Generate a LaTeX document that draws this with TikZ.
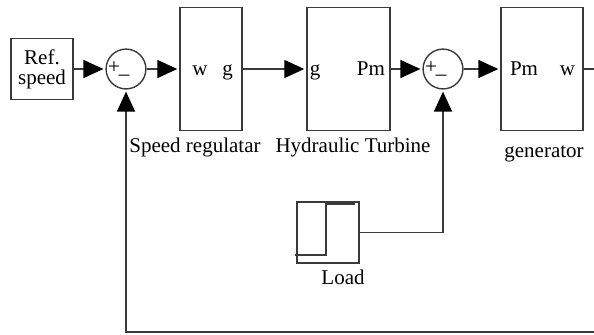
\documentclass[tikz,border=0pt]{standalone}
\usepackage{fontspec}
\setmainfont{Liberation Serif}
\usepackage{tikz}
\usetikzlibrary{arrows.meta,positioning,calc}
\definecolor{linedark}{HTML}{3A3A3A}
\tikzset{
  blockbox/.style={draw=linedark, line width=0.7pt, inner sep=0pt, minimum width=10.9mm, minimum height=21.6mm},
  srcbox/.style={draw=linedark, line width=0.7pt, inner sep=0pt, align=center, minimum width=10.9mm, minimum height=10.7mm},
  sumnode/.style={draw=linedark, circle, line width=0.7pt, inner sep=0pt, minimum size=7mm},
  port/.style={inner sep=0pt, anchor=base},
  signal/.style={-{Triangle[length=10pt, width=9pt, color=black]}, line width=0.7pt, draw=linedark, shorten >=1pt},
  plainline/.style={line width=0.7pt, draw=linedark}
}

\begin{document}
\begin{tikzpicture}[x=0.5pt, y=-0.5pt, font=\fontsize{10.5}{12}\selectfont]
  \useasboundingbox (0,0) rectangle (594,334);

  % blocks
  \node[srcbox, font=\fontsize{10.5}{10}\selectfont] (ref) at (42,69) {Ref.\\speed};
  \node[sumnode] (sum1) at (126,69) {};
  \node[blockbox] (reg) at (211,69) {};
  \node[blockbox, minimum width=14.6mm] (turb) at (348.5,69) {};
  \node[sumnode] (sum2) at (443,69) {};
  \node[blockbox, minimum width=14.4mm] (gen) at (542,69) {};
  \node[srcbox] (load) at (328,232.5) {};

  % ports and signs
  \node[port] (regw) at (200,75) {w};
  \node[port] (regg) at (227.5,75) {g};
  \node[port] (turbg) at (315,75) {g};
  \node[port] (turbpm) at (371,75) {Pm};
  \node[port] (genpm) at (524,75) {Pm};
  \node[port] (genw) at (567.5,75) {w};
  \node[inner sep=0pt] (sum1p) at (114,68) {+};
  \node[port] (sum1m) at (124,73) {\_};
  \node[inner sep=0pt] (sum2p) at (431,68) {+};
  \node[port] (sum2m) at (441,73) {\_};

  % labels
  \node[port] (reglabel) at (195,152) {Speed regulatar};
  \node[port] (turblabel) at (353,152) {Hydraulic Turbine};
  \node[port] (genlabel) at (544,157) {generator};
  \node[port] (loadlabel) at (343,284) {Load};

  % step symbol
  \draw[plainline] ([shift={(-33,22.5)}]load.center) -- ++(31,0) -- ++(0,-51) -- ++(29,0);

  \coordinate (wout) at (594,69);
  \coordinate (fbin) at (594,332);

  \draw[signal] (ref) -- (sum1);
  \draw[signal] (sum1) -- (reg);
  \draw[signal] (reg) -- (turb);
  \draw[signal] (turb) -- (sum2);
  \draw[signal] (sum2) -- (gen);
  \draw[plainline] (gen.east) -- (wout);
  \draw[signal] (fbin) -| (sum1.south);
  \draw[signal] (load.east) -| (sum2.south);
\end{tikzpicture}
\end{document}
